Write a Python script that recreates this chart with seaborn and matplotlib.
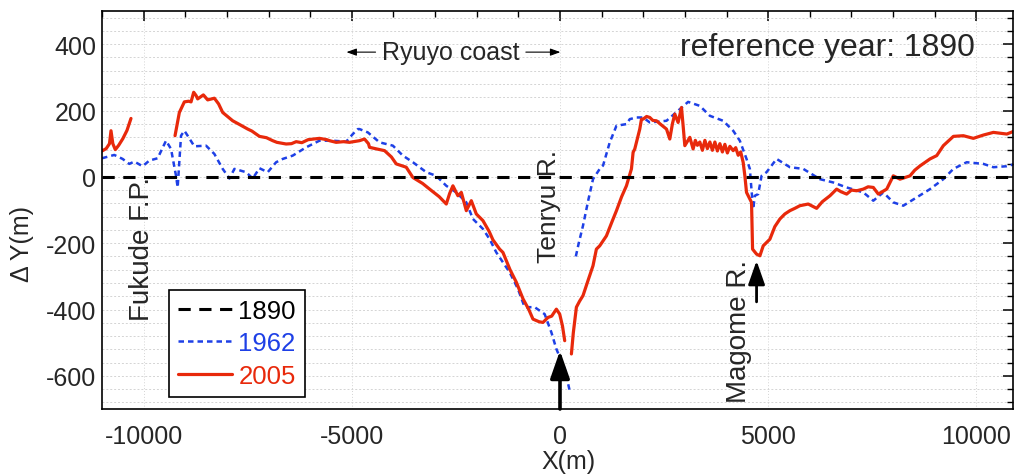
import numpy as np
import pandas as pd
import matplotlib
matplotlib.use("Agg")
import matplotlib.pyplot as plt
from matplotlib.lines import Line2D
from matplotlib.ticker import MultipleLocator
import seaborn as sns

# ---------------- data ----------------
base_x = [-11000, 11000]
base_y = [0, 0]

# 1962 shoreline change (two segments, gap at the Tenryu mouth)
b62_west_x = [-11000, -10705, -10505, -10345, -10224, -10025, -9863, -9664, -9462, -9342, -9222, -9183,
              -9102, -9022, -8943, -8782, -8501, -8301, -8101, -7940, -7820, -7539, -7380, -7219, -7020,
              -6818, -6659, -6419, -6097, -5777, -5457, -5135, -4976, -4856, -4815, -4616, -4334, -4014,
              -3774, -3533, -3212, -2972, -2731, -2491, -2250, -2091, -1851, -1690, -1529, -1209, -1010,
              -849, -608, -368, -207, -87, 113, 233]
b62_west_y = [56, 66, 54, 39, 46, 32, 49, 56, 109, 84, 3, -32,
              124, 139, 124, 92, 94, 69, 24, -5, 24, 14, -5, 26, 14,
              44, 54, 64, 89, 109, 109, 106, 129, 144, 144, 134, 104, 94,
              64, 44, 14, 3, -27, -47, -77, -127, -157, -188, -228, -288, -338,
              -393, -393, -414, -469, -519, -579, -645]
b62_east_x = [380, 450, 553, 680, 793, 954, 1034, 1195, 1356, 1596, 1676, 1837, 1996, 2156, 2558, 2878,
              3077, 3358, 3599, 3918, 4159, 4319, 4480, 4560, 4600, 4640, 4680, 4760, 4841, 4961, 5202,
              5522, 5842, 6243, 6563, 6885, 7285, 7525, 7765, 8005, 8246, 8567, 8887, 9207, 9448, 9768,
              10169, 10409, 10732, 10931]
b62_east_y = [-240, -200, -147, -70, -7, 24, 34, 104, 154, 159, 174, 179, 179, 164, 169, 204,
              226, 214, 184, 169, 139, 109, 54, 24, -40, -97, -57, -52, 3, 14, 54,
              29, 24, -7, -17, -32, -47, -72, -47, -77, -87, -62, -37, -7, 24, 44,
              39, 29, 32, 39]

# 2005 shoreline change (three segments)
r05_a_x = [-11000, -10900, -10820, -10784, -10740, -10680, -10600, -10500, -10400, -10304]
r05_a_y = [78, 85, 100, 139, 100, 82, 95, 115, 140, 176]
r05_b_x = [-9246, -9142, -9022, -8920, -8861, -8798, -8740, -8702, -8565, -8462, -8301, -8200, -8101,
           -7861, -7700, -7500, -7400, -7219, -7050, -6900, -6800, -6578, -6450, -6337, -6200, -6050,
           -5777, -5600, -5537, -5376, -5200, -5056, -4815, -4695, -4600, -4575, -4400, -4214, -4050,
           -3933, -3693, -3533, -3300, -3132, -2900, -2731, -2650, -2572, -2452, -2370, -2250, -2130,
           -2010, -1851, -1700, -1611, -1450, -1370, -1200, -1048, -888, -750, -649, -500, -409, -289,
           -200, -87, -7, 60, 113]
r05_b_y = [124, 194, 226, 228, 226, 255, 245, 235, 247, 232, 237, 220, 194,
           169, 158, 144, 138, 122, 118, 109, 104, 99, 100, 106, 103, 112,
           116, 112, 109, 104, 106, 104, 109, 114, 100, 89, 84, 79, 60,
           39, 29, -2, -20, -37, -60, -82, -50, -27, -57, -47, -102, -72,
           -112, -132, -165, -190, -218, -228, -280, -318, -368, -400, -429, -437, -439, -424,
           -420, -399, -414, -450, -494]
r05_c_x = [274, 320, 394, 470, 553, 680, 793, 874, 954, 1115, 1250, 1356, 1480, 1596, 1716, 1756, 1796,
           1916, 1957, 1996, 2080, 2156, 2230, 2317, 2400, 2558, 2637, 2700, 2757, 2837, 2918, 2960,
           2998, 3118, 3197, 3250, 3300, 3358, 3420, 3480, 3540, 3600, 3660, 3720, 3780, 3840, 3900,
           3960, 4020, 4080, 4159, 4220, 4280, 4340, 4399, 4440, 4480, 4600, 4625, 4721, 4801, 4881,
           5041, 5160, 5282, 5400, 5522, 5640, 5763, 5962, 6164, 6300, 6484, 6644, 6750, 6885, 7000,
           7125, 7285, 7400, 7525, 7645, 7847, 8005, 8166, 8406, 8520, 8647, 8887, 9048, 9207, 9448,
           9688, 9928, 10169, 10409, 10732, 10931]
r05_c_y = [-534, -470, -393, -375, -358, -310, -268, -218, -208, -178, -135, -102, -60, -27, 24, 74, 84,
           144, 174, 174, 182, 179, 170, 169, 160, 144, 114, 160, 189, 164, 209, 150,
           94, 119, 84, 110, 95, 105, 80, 110, 85, 105, 80, 105, 78, 100, 75,
           98, 72, 92, 79, 88, 65, 75, 44, 3, -47, -77, -218, -233, -238, -208,
           -188, -150, -127, -112, -102, -95, -87, -82, -95, -75, -57, -37, -45, -52, -40,
           -42, -37, -30, -32, -52, -37, 3, -7, 3, 20, 33, 54, 64, 94, 122,
           124, 116, 126, 134, 129, 139]

series_labels = ["1890", "1962", "2005"]
series_colors = ["#000000", "#1e40e6", "#e8290b"]

# ---------------- build table ----------------
def seg(x, y, series, sid):
    return pd.DataFrame({"x": x, "y": y, "series": series, "seg": sid})

df62 = pd.concat([seg(b62_west_x, b62_west_y, "1962", 0), seg(b62_east_x, b62_east_y, "1962", 1)])
df05 = pd.concat([seg(r05_a_x, r05_a_y, "2005", 0), seg(r05_b_x, r05_b_y, "2005", 1),
                  seg(r05_c_x, r05_c_y, "2005", 2)])
df90 = seg(base_x, base_y, "1890", 0)

# ---------------- plot ----------------
sns.set_theme(style="white")
plt.rcParams["font.family"] = ["Liberation Sans", "DejaVu Sans"]
plt.rcParams["axes.unicode_minus"] = False

W, H = 1015, 477
fig = plt.figure(figsize=(W / 100, H / 100), dpi=100)
L, R, T, B = 102, 1013, 12, 410
ax = fig.add_axes([L / W, 1 - B / H, (R - L) / W, (B - T) / H])

DASH62 = (0, (2.2, 1.6))
DASH90 = (0, (4, 2.8))

sns.lineplot(data=df62, x="x", y="y", units="seg", estimator=None, sort=False, ax=ax,
             color=series_colors[1], lw=1.8, linestyle=DASH62, legend=False)
sns.lineplot(data=df05, x="x", y="y", units="seg", estimator=None, sort=False, ax=ax,
             color=series_colors[2], lw=2.3, legend=False)
sns.lineplot(data=df90, x="x", y="y", units="seg", estimator=None, sort=False, ax=ax,
             color=series_colors[0], lw=2.2, linestyle=DASH90, legend=False)

ax.set_xlim(-11000, 10880)
ax.set_ylim(-700, 500)
ax.xaxis.set_major_locator(MultipleLocator(5000))
ax.xaxis.set_minor_locator(MultipleLocator(1000))
ax.yaxis.set_major_locator(MultipleLocator(200))
ax.yaxis.set_minor_locator(MultipleLocator(40))
ax.tick_params(which="both", direction="in", top=True, right=True, labelsize=18, color="black")
ax.tick_params(axis="y", which="both", pad=4)
ax.tick_params(axis="x", which="both", pad=11)
ax.tick_params(which="major", length=7, width=1.1)
ax.tick_params(which="minor", length=4, width=1.0)
for s in ax.spines.values():
    s.set_color("black")
    s.set_linewidth(1.2)

ax.yaxis.grid(True, which="both", color="#d4d4d4", linestyle=(0, (2, 2)), linewidth=0.7)
ax.xaxis.grid(True, which="major", color="#d4d4d4", linestyle=(0, (1, 2)), linewidth=0.7)
ax.set_axisbelow(True)

ax.set_xlabel("X(m)", fontsize=18)
ax.set_ylabel("Δ Y(m)", fontsize=18)
ax.xaxis.set_label_coords((569 - L) / (R - L), -(450 - B) / (B - T))
ax.yaxis.set_label_coords(-(L - 34) / (R - L), 500 / 1200)

# annotations
ax.text(-10032, -215, "Fukude F.P.", rotation=90, ha="center", va="center", fontsize=20)
ax.text(-272, -85, "Tenryu R.", rotation=90, ha="center", va="center", fontsize=19)
ax.text(4296, -462, "Magome R.", rotation=90, ha="center", va="center", fontsize=20)
ax.text(2877, 391, "reference year: 1890", ha="left", va="center", fontsize=23)

ax.text(-2627, 376, "Ryuyo coast", ha="center", va="center", fontsize=18)
ax.annotate("", xy=(-5130, 376), xytext=(-4430, 376),
            arrowprops=dict(arrowstyle="-|>,head_length=0.5,head_width=0.18", color="black",
                            lw=0.8, mutation_scale=12, shrinkA=0, shrinkB=0))
ax.annotate("", xy=(10, 376), xytext=(-820, 376),
            arrowprops=dict(arrowstyle="-|>,head_length=0.5,head_width=0.18", color="black",
                            lw=0.8, mutation_scale=12, shrinkA=0, shrinkB=0))

ax.annotate("", xy=(0, -524), xytext=(0, -700),
            arrowprops=dict(arrowstyle="-|>,head_length=0.4,head_width=0.14", color="black",
                            lw=2.6, mutation_scale=42, shrinkA=0, shrinkB=0))
ax.annotate("", xy=(4721, -253), xytext=(4721, -377),
            arrowprops=dict(arrowstyle="-|>,head_length=0.4,head_width=0.14", color="black",
                            lw=2.0, mutation_scale=36, shrinkA=0, shrinkB=0))

handles = [Line2D([], [], color=series_colors[0], lw=2.2, linestyle=DASH90),
           Line2D([], [], color=series_colors[1], lw=1.8, linestyle=DASH62),
           Line2D([], [], color=series_colors[2], lw=2.3)]
leg = ax.legend(handles, series_labels, loc="lower left",
                bbox_to_anchor=((169 - L) / (R - L), (B - 398) / (B - T)),
                fontsize=18.5, labelcolor=series_colors, frameon=True, fancybox=False,
                handlelength=2.1, handletextpad=0.25, borderpad=0.35, labelspacing=0.34,
                borderaxespad=0)
leg.get_frame().set_edgecolor("black")
leg.get_frame().set_linewidth(1.2)
leg.get_frame().set_facecolor("white")
leg.get_frame().set_alpha(1)

fig.savefig("out.png", dpi=100)
